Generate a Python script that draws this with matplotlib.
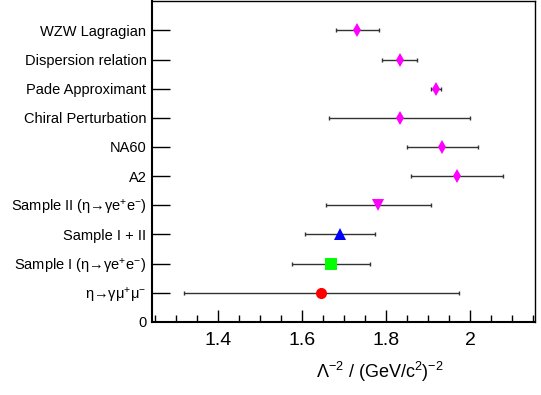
import matplotlib
matplotlib.use("Agg")
import matplotlib.pyplot as plt
from matplotlib.ticker import MultipleLocator, FixedLocator

plt.rcParams['font.family'] = ['Liberation Sans', 'DejaVu Sans']
plt.rcParams['mathtext.fontset'] = 'custom'
plt.rcParams['mathtext.rm'] = 'Liberation Sans'
plt.rcParams['mathtext.it'] = 'Liberation Sans'
plt.rcParams['mathtext.bf'] = 'Liberation Sans:bold'

# bottom to top
labels = [r"η→γμ$^{+}$μ$^{-}$",
          r"Sample I (η→γe$^{+}$e$^{-}$)",
          "Sample I + II",
          r"Sample II (η→γe$^{+}$e$^{-}$)",
          "A2", "NA60", "Chiral Perturbation", "Pade Approximant",
          "Dispersion relation", "WZW Lagragian"]
values = [1.645, 1.668, 1.690, 1.780, 1.969, 1.933, 1.833, 1.918, 1.833, 1.731]
err_low = [1.318, 1.575, 1.607, 1.656, 1.859, 1.849, 1.665, 1.906, 1.791, 1.680]
err_high = [1.974, 1.762, 1.774, 1.906, 2.079, 2.018, 1.999, 1.931, 1.874, 1.783]
markers = ['o', 's', '^', 'v', 'd', 'd', 'd', 'd', 'd', 'd']
colors = ['#ff0000', '#00ff00', '#0000ff', '#ff00ff', '#ff00ff', '#ff00ff',
          '#ff00ff', '#ff00ff', '#ff00ff', '#ff00ff']
msizes = [8, 8.5, 8.5, 8.5, 7.5, 7.5, 7.5, 7.5, 7.5, 7.5]

fig = plt.figure(figsize=(5.41, 3.95), dpi=100)
ax = fig.add_axes([0.281, 0.185, 0.708, 0.812])

for i in range(len(values)):
    y = i + 1
    ax.errorbar([values[i]], [y],
                xerr=[[values[i] - err_low[i]], [err_high[i] - values[i]]],
                fmt='none', ecolor='#333333', elinewidth=1.0, capsize=1.5,
                capthick=1.0, zorder=2)
    ax.plot(values[i], y, marker=markers[i], color=colors[i],
            markersize=msizes[i], linestyle='none', zorder=3,
            markeredgewidth=0)

ax.set_xlim(1.242, 2.155)
ax.set_ylim(0, 11)
ax.xaxis.set_major_locator(FixedLocator([1.4, 1.6, 1.8, 2.0]))
ax.set_xticklabels(["1.4", "1.6", "1.8", "2"])
ax.xaxis.set_minor_locator(MultipleLocator(0.05))
ax.set_yticks(range(0, 11))
ax.set_yticklabels(["0"] + labels)
ax.tick_params(axis='x', which='major', direction='in', length=9, width=1,
               labelsize=14, pad=7, top=False)
ax.tick_params(axis='x', which='minor', direction='in', length=5, width=1,
               top=False)
ax.tick_params(axis='y', which='major', direction='in', length=13, width=1,
               labelsize=10.5, pad=4, right=False)
ax.yaxis.get_major_ticks()[0].tick1line.set_visible(False)
for s in ['left', 'bottom']:
    ax.spines[s].set_linewidth(1.5)
for s in ['top', 'right']:
    ax.spines[s].set_linewidth(1.0)

fig.text(380 / 541, 1 - 372 / 395,
         r"$\mathregular{\Lambda^{-2}}$ / (GeV/c$\mathregular{^{2}}$)$\mathregular{^{-2}}$",
         ha='center', va='center', fontsize=13)

fig.savefig("out.png", dpi=100)
